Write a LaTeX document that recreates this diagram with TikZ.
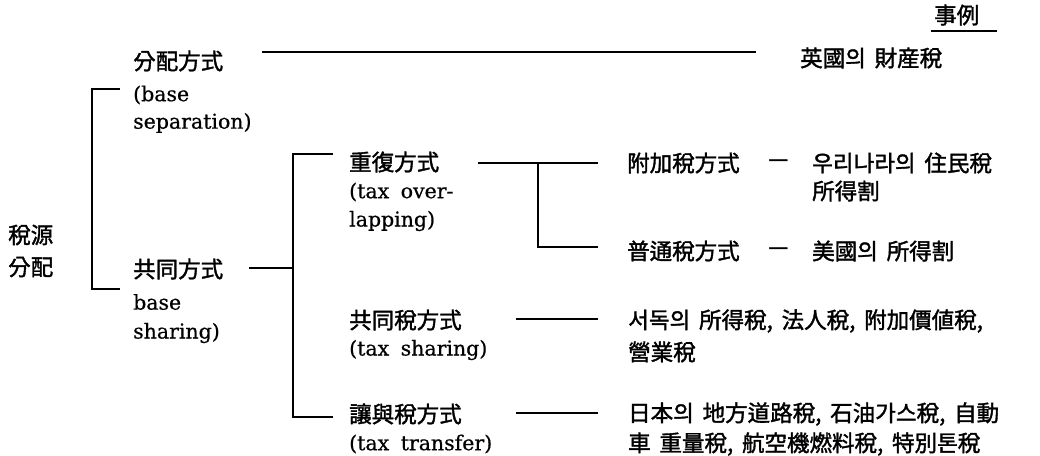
\documentclass[tikz,border=0pt]{standalone}
\usepackage{fontspec}
\setmainfont{DejaVu Serif}[FakeBold=0.6]
\newfontfamily\kr{Noto Sans CJK KR}[FakeBold=1.6]
\newcommand\wsp{\hspace{5pt} }
\begin{document}
\begin{tikzpicture}[x=1pt,y=-1pt,
  kt/.style={anchor=west, inner sep=0pt, font=\kr\fontsize{22.5}{27}\selectfont},
  et/.style={anchor=west, inner sep=0pt, font=\fontsize{20.5}{26}\selectfont},
  ln/.style={line width=1.5pt, line cap=rect}]
\useasboundingbox (0,0) rectangle (1040,455);
% header
\node[kt] (hd) at (934,15) {事例};
\coordinate (hu1) at (932,31); \coordinate (hu2) at (996,31);
\draw[ln] (hu1) -- (hu2);
% root
\node[kt] (root1) at (8,235) {稅源};
\node[kt] (root2) at (8,267) {分配};
% level 1
\node[kt] (a1) at (133,61) {分配方式};
\node[et] (a1b) at (133,95) {(base};
\node[et] (a1c) at (133,123) {separation)};
\node[kt] (a2) at (133,269) {共同方式};
\node[et] (a2b) at (133,302) {base};
\node[et] (a2c) at (133,333) {sharing)};
\coordinate (k1t) at (119,89); \coordinate (k1a) at (92,89);
\coordinate (k1b) at (92,289); \coordinate (k1c) at (119,289);
\draw[ln] (k1t) -- (k1a) -- (k1b) -- (k1c);
% example of 分配方式
\coordinate (l1a) at (263,52); \coordinate (l1b) at (755,52);
\draw[ln] (l1a) -- (l1b);
\node[kt] (r1) at (800,58) {英國의\ \,財産稅};
% level 2
\coordinate (l2a) at (250,268); \coordinate (k2m) at (293,268);
\draw[ln] (l2a) -- (k2m);
\coordinate (k2t) at (332,154); \coordinate (k2a) at (293,154);
\coordinate (k2b) at (293,417); \coordinate (k2c) at (332,417);
\draw[ln] (k2t) -- (k2a) -- (k2b) -- (k2c);
\node[kt] (b1) at (349,162) {重復方式};
\node[et] (b1b) at (349,192) {(tax\wsp over-};
\node[et] (b1c) at (349,221) {lapping)};
\node[kt] (b2) at (349,320) {共同稅方式};
\node[et] (b2b) at (349,350) {(tax\wsp sharing)};
\node[kt] (b3) at (349,414) {讓與稅方式};
\node[et] (b3b) at (349,444) {(tax\wsp transfer)};
% level 3 from 重復方式
\coordinate (l3a) at (479,163); \coordinate (l3j) at (538,163);
\coordinate (l3b) at (597,163); \coordinate (l3k) at (538,247);
\coordinate (l3c) at (597,247);
\draw[ln] (l3a) -- (l3b);
\draw[ln] (l3j) -- (l3k) -- (l3c);
\node[kt] (c1) at (627,163) {附加稅方式};
\node[kt] (c1d) at (768,163) {—};
\node[kt] (c1e) at (812,163) {우리나라의\ \,住民稅};
\node[kt] (c1f) at (812,191) {所得割};
\node[kt] (c2) at (627,251) {普通稅方式};
\node[kt] (c2d) at (768,251) {—};
\node[kt] (c2e) at (812,251) {美國의\ \,所得割};
% 共同稅方式 example
\coordinate (l4a) at (517,319); \coordinate (l4b) at (597,319);
\draw[ln] (l4a) -- (l4b);
\node[kt] (d1) at (628,321) {서독의 \,所得稅,\ \,法人稅,\ \,附加價値稅,};
\node[kt] (d2) at (628,352) {營業稅};
% 讓與稅方式 example
\coordinate (l5a) at (517,413); \coordinate (l5b) at (597,413);
\draw[ln] (l5a) -- (l5b);
\node[kt] (e1) at (628,414) {日本의 \,地方道路稅,\ \,石油가스稅,\ \,自動};
\node[kt] (e2) at (628,444) {車 \,重量稅,\ \,航空機燃料稅,\ \,特別톤稅};
\end{tikzpicture}
\end{document}
